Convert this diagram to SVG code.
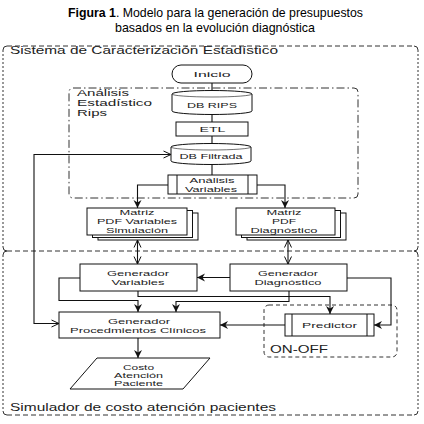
<svg xmlns="http://www.w3.org/2000/svg" width="424" height="424" viewBox="0 0 424 424">
<style>
.t{font-family:"Liberation Sans",Arial,sans-serif;font-size:8px;fill:#222;text-anchor:middle}
.lbl{font-family:"Liberation Sans",Arial,sans-serif;font-size:10.5px;fill:#222}
.sm{font-size:9px}
.oo{font-size:10px}
.title{font-family:"Liberation Sans",Arial,sans-serif;font-size:13px;fill:#000}
.box{fill:#fff;stroke:#111;stroke-width:1}
.c{fill:none;stroke:#111;stroke-width:1.1}
.hd{fill:none;stroke:#333;stroke-width:1;stroke-dasharray:5,3}
.vd{fill:none;stroke:#333;stroke-width:1;stroke-dasharray:2,2}
</style>
<defs>
<marker id="a" markerUnits="userSpaceOnUse" markerWidth="9" markerHeight="9" refX="8" refY="4.5" orient="auto">
<path d="M0,0.5 L8,4.5 L0,8.5 L2.5,4.5 Z" fill="#111"/>
</marker>
<marker id="o" markerUnits="userSpaceOnUse" markerWidth="9" markerHeight="9" refX="8" refY="4.5" orient="auto-start-reverse">
<path d="M0.5,1 L8,4.5 L0.5,8" fill="none" stroke="#111" stroke-width="1"/>
</marker>
</defs>
<rect width="424" height="424" fill="#fff"/>
<g id="title">
<text class="title" x="68" y="16.5" textLength="295" lengthAdjust="spacingAndGlyphs"><tspan font-weight="bold">Figura 1</tspan>. Modelo para la generación de presupuestos</text>
<text class="title" x="115" y="31.5" textLength="200" lengthAdjust="spacingAndGlyphs">basados en la evolución diagnóstica</text>
</g>
<g id="containers">
<path class="hd" d="M7,46 H414 M7,251 H414 M7,415 H414"/>
<path class="vd" d="M3,50 V247 M3,255 V411 M418,50 V247 M418,255 V411"/>
<path fill="none" stroke="#333" d="M3,50 Q3,46 7,46 M414,46 Q418,46 418,50 M3,247 Q3,251 7,251 M3,255 Q3,251 7,251 M418,247 Q418,251 414,251 M418,255 Q418,251 414,251 M3,411 Q3,415 7,415 M418,411 Q418,415 414,415"/>
<text class="lbl" x="10" y="53.5" textLength="268" lengthAdjust="spacingAndGlyphs">Sistema de Caracterización Estadístico</text>
<text class="lbl" x="10" y="410.5" textLength="266" lengthAdjust="spacingAndGlyphs">Simulador de costo atención pacientes</text>
<rect x="69" y="88" width="289" height="110" rx="4" fill="none" stroke="#333" stroke-dasharray="8,3,1.5,3"/>
<text class="lbl sm" x="77" y="96" textLength="52" lengthAdjust="spacingAndGlyphs">Análisis</text>
<text class="lbl sm" x="77" y="106.2" textLength="75" lengthAdjust="spacingAndGlyphs">Estadístico</text>
<text class="lbl sm" x="77" y="116.4" textLength="30" lengthAdjust="spacingAndGlyphs">Rips</text>
<rect x="264" y="305" width="133" height="52" rx="5" fill="none" stroke="#333" stroke-dasharray="4,3"/>
<text class="lbl oo" x="270" y="353" textLength="58" lengthAdjust="spacingAndGlyphs">ON-OFF</text>
</g>
<g id="connectors">
<path class="c" d="M212,83 V92 M212,114 V122 M212,136 V144 M212,164 V175"/>
<path class="c" d="M168,185 H137.5 V208" marker-end="url(#a)"/>
<path class="c" d="M257,185 H285 V208" marker-end="url(#a)"/>
<path class="c" d="M137.5,240 V264" marker-start="url(#o)" marker-end="url(#o)"/>
<path class="c" d="M288,240 V264" marker-start="url(#o)" marker-end="url(#o)"/>
<path class="c" d="M230,277.5 H197" marker-end="url(#a)"/>
<path class="c" d="M80,278 H59 V300.5 H138 V312" marker-end="url(#a)"/>
<path class="c" d="M138,291 V296.5 H330 V314" marker-end="url(#a)"/>
<path class="c" d="M289,291 V301.5 H176 V312" marker-end="url(#a)"/>
<path class="c" d="M347,278 H391 V325 H374" marker-end="url(#a)"/>
<path class="c" d="M285,325 H220" marker-end="url(#a)"/>
<path class="c" d="M138,338 V358" marker-end="url(#a)"/>
<path class="c" d="M171,154.5 H34 V323.5 H59" marker-start="url(#o)" marker-end="url(#o)"/>
</g>
<g id="inicio">
<rect class="box" x="172" y="65" width="80" height="18" rx="9"/>
<text class="t" x="212" y="77" textLength="37" lengthAdjust="spacingAndGlyphs">Inicio</text>
</g>
<g id="db-rips">
<path class="box" d="M172,94 A40,3.5 0 0 1 252,94 V111 A40,3.5 0 0 1 172,111 Z"/>
<path fill="none" stroke="#111" stroke-width="0.6" d="M172,94 A40,3 0 0 0 252,94"/>
<text class="t" x="212" y="108" textLength="50" lengthAdjust="spacingAndGlyphs">DB RIPS</text>
</g>
<g id="etl">
<rect class="box" x="176" y="122" width="72" height="14"/>
<text class="t" x="212.5" y="132" textLength="26" lengthAdjust="spacingAndGlyphs">ETL</text>
</g>
<g id="db-filtrada">
<path class="box" d="M171,147 A40,3.5 0 0 1 251,147 V161 A40,3.5 0 0 1 171,161 Z"/>
<path fill="none" stroke="#111" stroke-width="0.6" d="M171,147 A40,3 0 0 0 251,147"/>
<text class="t" x="211" y="159" textLength="63" lengthAdjust="spacingAndGlyphs">DB Filtrada</text>
</g>
<g id="analisis-variables">
<rect class="box" x="168" y="175" width="89" height="19"/>
<path fill="none" stroke="#111" d="M177,175 V194 M248,175 V194"/>
<text class="t" x="212" y="183.4" textLength="45" lengthAdjust="spacingAndGlyphs">Análisis</text>
<text class="t" x="211" y="192" textLength="52" lengthAdjust="spacingAndGlyphs">Variables</text>
</g>
<g id="matriz-variables">
<rect class="box" x="98" y="213" width="100" height="27"/>
<rect class="box" x="92.5" y="210.5" width="100" height="27"/>
<rect class="box" x="87" y="208" width="100" height="27"/>
<text class="t" x="137" y="215.3" textLength="35" lengthAdjust="spacingAndGlyphs">Matriz</text>
<text class="t" x="137" y="224" textLength="80" lengthAdjust="spacingAndGlyphs">PDF Variables</text>
<text class="t" x="137" y="232.5" textLength="62" lengthAdjust="spacingAndGlyphs">Simulación</text>
</g>
<g id="matriz-diagnostico">
<rect class="box" x="247" y="213" width="99" height="27"/>
<rect class="box" x="241.5" y="210.5" width="99" height="27"/>
<rect class="box" x="236" y="208" width="99" height="27"/>
<text class="t" x="284" y="215.3" textLength="35" lengthAdjust="spacingAndGlyphs">Matriz</text>
<text class="t" x="284" y="224" textLength="24" lengthAdjust="spacingAndGlyphs">PDF</text>
<text class="t" x="284" y="232.5" textLength="67" lengthAdjust="spacingAndGlyphs">Diagnóstico</text>
</g>
<g id="generador-variables">
<rect class="box" x="80" y="264" width="117" height="27"/>
<text class="t" x="138" y="276" textLength="62" lengthAdjust="spacingAndGlyphs">Generador</text>
<text class="t" x="138" y="285" textLength="53" lengthAdjust="spacingAndGlyphs">Variables</text>
</g>
<g id="generador-diagnostico">
<rect class="box" x="230" y="264" width="117" height="27"/>
<text class="t" x="288" y="276" textLength="60" lengthAdjust="spacingAndGlyphs">Generador</text>
<text class="t" x="288" y="285" textLength="67" lengthAdjust="spacingAndGlyphs">Diagnóstico</text>
</g>
<g id="generador-procedimientos">
<rect class="box" x="59" y="312" width="161" height="26"/>
<text class="t" x="139" y="323.7" textLength="62" lengthAdjust="spacingAndGlyphs">Generador</text>
<text class="t" x="138" y="332.6" textLength="136" lengthAdjust="spacingAndGlyphs">Procedmientos Clínicos</text>
</g>
<g id="predictor">
<rect class="box" x="285" y="314" width="89" height="22"/>
<path fill="none" stroke="#111" d="M292,314 V336 M367,314 V336"/>
<text class="t" x="329.5" y="328" textLength="55" lengthAdjust="spacingAndGlyphs">Predictor</text>
</g>
<g id="costo">
<polygon class="box" points="97,358 210,358 183,389 70,389"/>
<text class="t" x="138.5" y="370.3" textLength="31" lengthAdjust="spacingAndGlyphs">Costo</text>
<text class="t" x="138.5" y="378.3" textLength="49" lengthAdjust="spacingAndGlyphs">Atención</text>
<text class="t" x="138.5" y="386.3" textLength="49" lengthAdjust="spacingAndGlyphs">Paciente</text>
</g>
</svg>
